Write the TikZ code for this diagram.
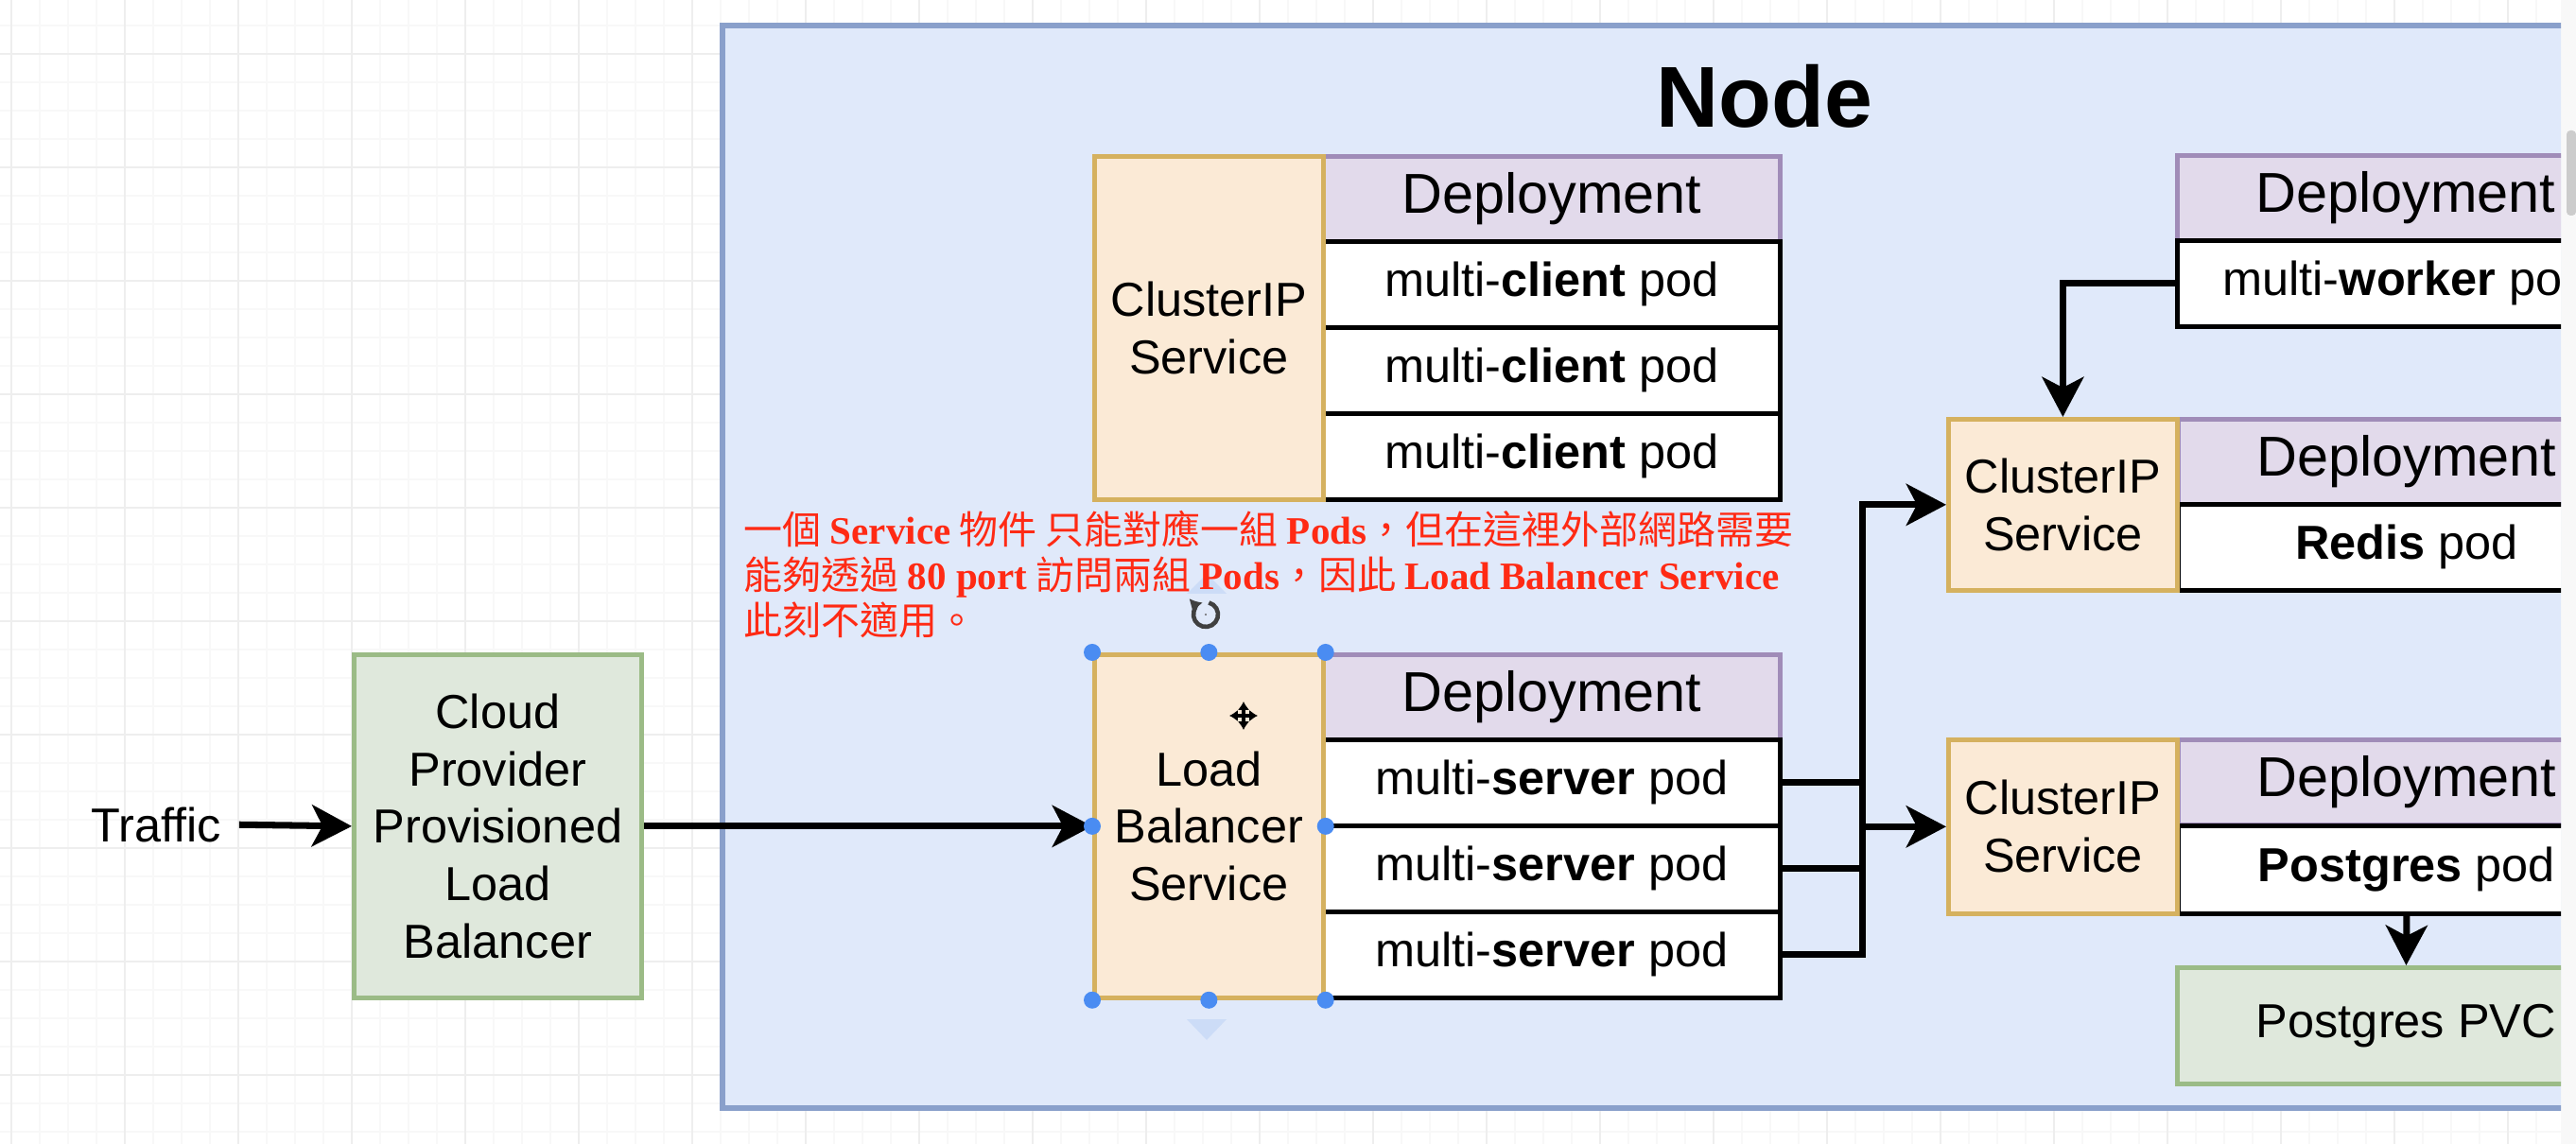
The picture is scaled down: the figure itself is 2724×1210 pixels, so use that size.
\documentclass[tikz,border=0pt]{standalone}
\usepackage{fontspec}
\setmainfont{Liberation Sans}
\newfontfamily\cjkfont{Noto Sans CJK TC}
\newfontfamily\tmsfont{Liberation Serif}
\usetikzlibrary{arrows.meta}
\definecolor{nodefill}{HTML}{E0E9FA}
\definecolor{nodeborder}{HTML}{8AA0CB}
\definecolor{svcfill}{HTML}{FBEAD6}
\definecolor{svcborder}{HTML}{D5B15F}
\definecolor{depfill}{HTML}{E2DAEB}
\definecolor{depborder}{HTML}{A08CB8}
\definecolor{grnfill}{HTML}{DFE8DC}
\definecolor{grnborder}{HTML}{9BBB86}
\definecolor{notered}{HTML}{FF2A14}
\definecolor{gridminor}{HTML}{F8F8F8}
\definecolor{gridmajor}{HTML}{EEEEEE}
\definecolor{handleblue}{HTML}{4A8CF2}
\definecolor{hintblue}{HTML}{CCDCF7}
\begin{document}
\begin{tikzpicture}[x=0.01cm,y=-0.01cm,
  box/.style={line width=1.3pt, inner sep=0pt, anchor=north west, align=center,
    font=\fontsize{14.35}{17.3}\selectfont},
  svcbox/.style={box, draw=svcborder, fill=svcfill, minimum width=2.42cm},
  depbox/.style={box, draw=depborder, fill=depfill, minimum width=4.83cm,
    minimum height=0.90cm, font=\fontsize{16.9}{20}\selectfont},
  podbox/.style={box, draw=black, fill=white, minimum width=4.83cm, minimum height=0.91cm},
  grnbox/.style={box, draw=grnborder, fill=grnfill},
  conn/.style={line width=2pt, black},
  arr/.style={conn, -{Stealth[length=12pt,width=12.5pt,inset=3.2pt]}},
  note/.style={inner sep=0pt, anchor=base west, text=notered,
    font=\cjkfont\fontsize{11.66}{14}\selectfont},
  handle/.style={fill=handleblue}]
\useasboundingbox (0,0) rectangle (2724,1210);
\fill[white] (0,0) rectangle (2724,1210);
% grid
\foreach \x in {12,42,...,2724} \draw[gridminor, line width=0.6pt] (\x,0) -- (\x,1210);
\foreach \y in {27,57,...,1210} \draw[gridminor, line width=0.6pt] (0,\y) -- (2724,\y);
\foreach \x in {12,132,...,2724} \draw[gridmajor, line width=0.6pt] (\x,0) -- (\x,1210);
\foreach \y in {57,177,...,1210} \draw[gridmajor, line width=0.6pt] (0,\y) -- (2724,\y);
% scroll strip
\fill[gridminor] (2708,0) rectangle (2724,1210);
\fill[black!20, rounded corners=0.04cm] (2714,138) rectangle (2724,228);

\begin{scope}
\clip (0,0) rectangle (2708,1210);
% Node container
\fill[nodefill] (764,27) rectangle (2720,1172);
\draw[nodeborder, line width=1.5pt] (2720,27) -- (764,27) -- (764,1172) -- (2720,1172);
\node[font=\bfseries\fontsize{26}{30}\selectfont, anchor=base, inner sep=0pt] (title) at (1866,135) {Node};

% hint triangles (editor UI)
\fill[hintblue] (1255,628) -- (1297,628) -- (1276,607) -- cycle;
\fill[hintblue] (1255,1078) -- (1297,1078) -- (1276,1100) -- cycle;

% client group
\node[depbox] (cdep) at (1397,163) {Deployment};
\node[podbox] (cp1) at (1397,253) {multi-\textbf{client} pod};
\node[podbox] (cp2) at (1397,344) {multi-\textbf{client} pod};
\node[podbox] (cp3) at (1397,435) {multi-\textbf{client} pod};
\node[svcbox, minimum height=3.63cm] (csvc) at (1155,163) {ClusterIP\\Service};

% load balancer group
\node[depbox] (ldep) at (1397,690) {Deployment};
\node[podbox] (lp1) at (1397,780) {multi-\textbf{server} pod};
\node[podbox] (lp2) at (1397,871) {multi-\textbf{server} pod};
\node[podbox] (lp3) at (1397,962) {multi-\textbf{server} pod};
\node[svcbox, minimum height=3.63cm] (lsvc) at (1155,690) {Load\\Balancer\\Service};

% worker
\node[depbox] (wdep) at (2300,162) {Deployment};
\node[podbox] (wpod) at (2300,252) {multi-\textbf{worker} pod};

% redis
\node[depbox] (rdep) at (2301,441) {Deployment};
\node[podbox] (rpod) at (2301,531) {\textbf{Redis} pod};
\node[svcbox, minimum height=1.81cm] (rsvc) at (2058,441) {ClusterIP\\Service};

% postgres
\node[depbox] (pdep) at (2301,780) {Deployment};
\node[podbox, minimum height=0.93cm] (ppod) at (2301,871) {\textbf{Postgres} pod};
\node[svcbox, minimum height=1.84cm] (psvc) at (2058,780) {ClusterIP\\Service};
\node[grnbox, minimum width=4.84cm, minimum height=1.23cm] (pvc) at (2300,1021) {Postgres PVC};

% cloud LB and traffic
\node[grnbox, minimum width=3.04cm, minimum height=3.63cm] (cloud) at (372,690)
  {Cloud\\Provider\\Provisioned\\Load\\Balancer};
\node[inner sep=0pt, font=\fontsize{14.35}{17.3}\selectfont] (traffic) at (165.5,872) {Traffic};

% connectors
\coordinate (bus) at (1969,0);
\draw[arr, shorten <=0.18cm] (traffic.east) -- (cloud.west);
\draw[arr] (cloud.east) -- (lsvc.west);
\draw[conn] (lp1.east) -- (lp1.east -| bus);
\draw[conn] (lp2.east) -- (lp2.east -| bus);
\draw[arr] (lp3.east) -| (bus |- rsvc.west) -- (rsvc.west);
\draw[arr] (bus |- psvc.west) -- (psvc.west);
\draw[arr] (wpod.west) -| (rsvc.north);
\draw[arr] (ppod.south) -- (pvc.north);

% note
\node[note] (n1) at (786,576) {一個 {\tmsfont\bfseries Service} 物件 只能對應一組 {\tmsfont\bfseries Pods}，但在這裡外部網路需要};
\node[note] (n2) at (786,624) {能夠透過 {\tmsfont\bfseries 80 port} 訪問兩組 {\tmsfont\bfseries Pods}，因此 {\tmsfont\bfseries Load Balancer Service}};
\node[note] (n3) at (786,672) {此刻不適用。};

% selection handles (editor UI)
\foreach \a in {north west,north,north east,west,east,south west,south,south east}
  \fill[handle] (lsvc.\a) circle (0.09cm);
\coordinate (rot) at (1275,650);
\draw[black!75, line width=1.3pt, -{Latex[length=3.5pt,width=4.5pt]}]
  ([shift={(75:0.13cm)}]rot) arc[start angle=75, end angle=-255, radius=0.13cm];
\fill[black!60] (rot) circle (0.012cm);
\coordinate (mv) at (1315,757);
\foreach \d in {(0,-15),(0,15),(-15,0),(15,0)}
  \draw[black, line width=0.9pt, -{Latex[length=2.5pt,width=3.5pt]}] (mv) -- ++\d;
\end{scope}
\end{tikzpicture}
\end{document}
